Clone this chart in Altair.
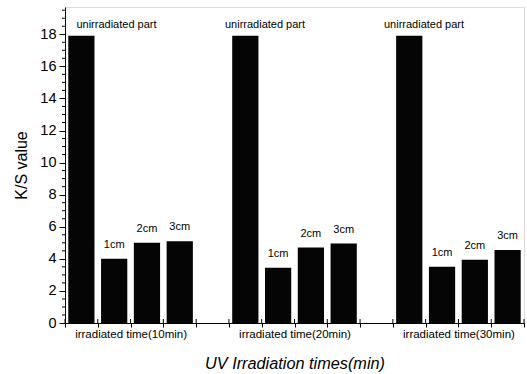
import altair as alt
import pandas as pd

groups = ["irradiated time(10min)", "irradiated time(20min)", "irradiated time(30min)"]
parts = ["unirradiated part", "1cm", "2cm", "3cm"]
values = [
    [17.9, 4.0, 5.0, 5.1],
    [17.9, 3.45, 4.7, 4.95],
    [17.9, 3.5, 3.95, 4.55],
]
group_label_pos = [2, 7, 12]
unirr_label_x = [1.57, 6.1, 10.95]
unirr_label_y = 18.4
x_ticks = list(range(0, 15))
y_major = list(range(0, 20, 2))
y_minor = [v / 2 for v in range(0, 40) if v % 4 != 0]

rows = []
for gi, g in enumerate(groups):
    for pi, p in enumerate(parts):
        pos = gi * 5 + pi + 0.5
        rows.append({"group": g, "part": p, "value": values[gi][pi],
                     "x0": pos - 0.4, "x1": pos + 0.4, "xc": pos,
                     "lab": "" if pi == 0 else p})
df = pd.DataFrame(rows)
ann = pd.DataFrame({"x": unirr_label_x, "y": [unirr_label_y] * 3, "t": ["unirradiated part"] * 3})
ticks_df = pd.DataFrame({"x": x_ticks})
minor_df = pd.DataFrame({"y": y_minor})

FONT = "Liberation Sans"
W, H = 459, 316
xscale = alt.Scale(domain=[0, 14], nice=False, zero=False)
yscale = alt.Scale(domain=[0, 19.7], nice=False)

label_expr = "datum.value == %d ? '%s' : datum.value == %d ? '%s' : datum.value == %d ? '%s' : ''" % (
    group_label_pos[0], groups[0], group_label_pos[1], groups[1], group_label_pos[2], groups[2])

ax_x = alt.Axis(values=x_ticks, labelExpr=label_expr, tickSize=4,
                labelOverlap=False, labelFontSize=11.5, labelPadding=1,
                title="UV Irradiation times(min)",
                titleFontSize=16.3, titleFontStyle="italic", titlePadding=16)
ax_y = alt.Axis(values=y_major, tickSize=6, labelOverlap=False,
                labelFontSize=14.5, labelPadding=3,
                title="K/S value", titleFontSize=16, titlePadding=10)

bars = alt.Chart(df).mark_bar(color="#050505").encode(
    x=alt.X("x0:Q", scale=xscale, axis=ax_x),
    x2="x1:Q",
    y=alt.Y("value:Q", scale=yscale, axis=ax_y),
    y2=alt.datum(0),
)

bar_labels = alt.Chart(df).mark_text(font=FONT, fontSize=11, color="black",
                                      baseline="alphabetic", dy=-11).encode(
    x=alt.X("xc:Q", scale=xscale, axis=ax_x), y=alt.Y("value:Q", scale=yscale, axis=ax_y),
    text="lab:N")

ann_text = alt.Chart(ann).mark_text(font=FONT, fontSize=11, color="black",
                                     baseline="alphabetic").encode(
    x=alt.X("x:Q", scale=xscale, axis=ax_x), y=alt.Y("y:Q", scale=yscale, axis=ax_y),
    text="t:N")

inner_ticks = alt.Chart(ticks_df).mark_rule(color="black", strokeWidth=1).encode(
    x=alt.X("x:Q", scale=xscale, axis=ax_x), y=alt.value(H - 4), y2=alt.value(H))

minor_ticks = alt.Chart(minor_df).mark_rule(color="black", strokeWidth=1).encode(
    y=alt.Y("y:Q", scale=yscale, axis=ax_y), x=alt.value(-3), x2=alt.value(0))

chart = alt.layer(bars, bar_labels, ann_text, inner_ticks, minor_ticks).properties(
    width=W, height=H,
    autosize=alt.AutoSizeParams(type="none"),
    padding={"left": 65, "top": 7, "right": 3, "bottom": 51},
).configure_view(stroke="black", strokeWidth=1).configure(background="white").configure_axis(
    grid=False, labelFont=FONT, labelColor="black", tickColor="black",
    domainColor="black", titleFont=FONT, titleColor="black", titleFontWeight="normal",
)

chart.save("out.html", embed_options={"renderer": "svg", "actions": False})
